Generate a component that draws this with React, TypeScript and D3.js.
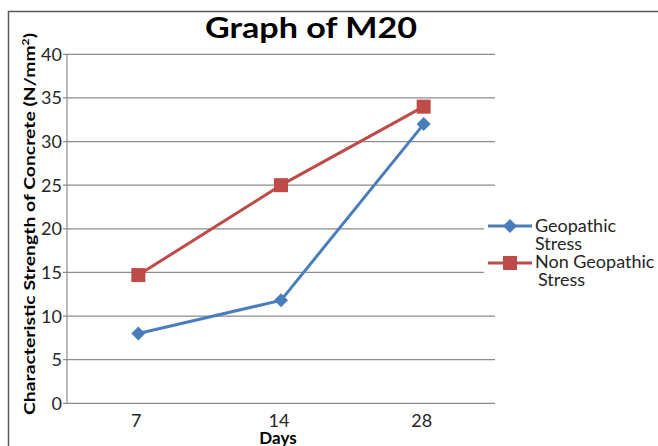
import React from 'react';
import * as d3 from 'd3';

// Curing age (days) and characteristic strength (N/mm²) for M20 concrete
const categories = ['7', '14', '28'];
const geopathic = [8, 11.8, 32];
const nonGeopathic = [14.7, 25, 34];
const yTicks = [0, 5, 10, 15, 20, 25, 30, 35, 40];
const seriesNames = ['Geopathic Stress', 'Non Geopathic Stress'];

const W = 658;
const H = 446;
const plot = { left: 67, right: 495, top: 54.3, bottom: 403.3 };
const BLUE = '#4A7EBB';
const RED = '#BE4B48';
const FONT = 'Lato, "Open Sans", sans-serif';

export default function App() {
  const x = d3.scalePoint<string>().domain(categories).range([plot.left, plot.right]).padding(0.5);
  const y = d3.scaleLinear().domain([0, 40]).range([plot.bottom, plot.top]);

  const line = d3
    .line<number>()
    .x((_, i) => x(categories[i]) as number)
    .y((d) => y(d));

  const diamond = d3.symbol().type(d3.symbolDiamond2).size(125)() as string;
  const sq = 14;

  return (
    <svg
      width={W}
      height={H}
      style={{ position: 'absolute', left: 0, top: 0, background: '#fff' }}
      fontFamily={FONT}
    >
      <rect x={0} y={0} width={W} height={H} fill="#fff" />
      {/* chart frame */}
      <rect x={8.5} y={11.5} width={W + 20} height={H + 20} fill="none" stroke="#595959" strokeWidth={1.5} />

      {/* title */}
      <text x={311} y={38} textAnchor="middle" fontSize={28} fontWeight={700} fill="#000" textLength={212} lengthAdjust="spacingAndGlyphs">
        Graph of M20
      </text>

      {/* gridlines */}
      {yTicks.map((t) => (
        <line key={t} x1={plot.left - 4} x2={plot.right} y1={y(t)} y2={y(t)} stroke="#8C8C8C" strokeWidth={1.2} />
      ))}
      {/* y axis line */}
      <line x1={plot.left} x2={plot.left} y1={plot.top} y2={plot.bottom} stroke="#8C8C8C" strokeWidth={1.2} />

      {/* y tick labels */}
      {yTicks.map((t) => (
        <text key={t} x={62} y={y(t)} dy="0.36em" textAnchor="end" fontSize={18} fill="#262626">
          {t}
        </text>
      ))}

      {/* x tick labels */}
      {categories.map((c) => (
        <text key={c} x={(x(c) as number) - 2} y={427} textAnchor="middle" fontSize={18} fill="#262626">
          {c}
        </text>
      ))}

      {/* axis titles */}
      <text x={278} y={444} textAnchor="middle" fontSize={17} fontWeight={700} fill="#000">
        Days
      </text>
      <text
        transform="translate(35,224) rotate(-90)"
        textAnchor="middle"
        fontSize={16}
        fontWeight={700}
        fill="#000"
        textLength={382}
        lengthAdjust="spacingAndGlyphs"
      >
        Characteristic Strength of Concrete (N/mm<tspan dy={-6} fontSize={10}>2</tspan><tspan dy={6}>)</tspan>
      </text>

      {/* series lines */}
      <path d={line(geopathic) as string} fill="none" stroke={BLUE} strokeWidth={3} strokeLinejoin="round" />
      <path d={line(nonGeopathic) as string} fill="none" stroke={RED} strokeWidth={3} strokeLinejoin="round" />

      {/* markers */}
      {geopathic.map((v, i) => (
        <path key={'g' + i} d={diamond} transform={`translate(${x(categories[i])},${y(v)})`} fill={BLUE} />
      ))}
      {nonGeopathic.map((v, i) => (
        <rect key={'n' + i} x={(x(categories[i]) as number) - sq / 2} y={y(v) - sq / 2} width={sq} height={sq} fill={RED} />
      ))}

      {/* legend */}
      <rect x={484} y={208} width={180} height={86} fill="#fff" />
      <line x1={488} x2={532} y1={226} y2={226} stroke={BLUE} strokeWidth={3} />
      <path d={diamond} transform="translate(510,226)" fill={BLUE} />
      <text x={535} y={232} fontSize={18} fill="#262626">Geopathic</text>
      <text x={535} y={250} fontSize={18} fill="#262626">Stress</text>

      <line x1={488} x2={532} y1={263} y2={263} stroke={RED} strokeWidth={3} />
      <rect x={510 - sq / 2} y={263 - sq / 2} width={sq} height={sq} fill={RED} />
      <text x={535} y={268} fontSize={18} fill="#262626">Non Geopathic</text>
      <text x={538} y={286} fontSize={18} fill="#262626">Stress</text>
      <title>{seriesNames.join(', ')}</title>
    </svg>
  );
}
